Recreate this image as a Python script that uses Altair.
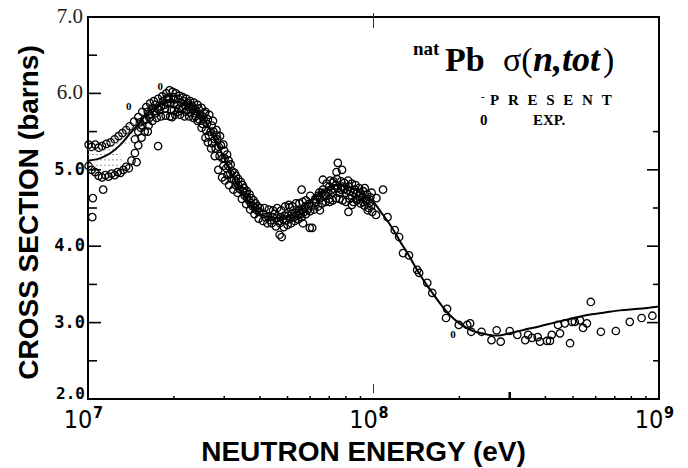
import altair as alt
import pandas as pd

# ---------------- data ----------------
# experimental points (neutron energy in MeV, cross section in barns), by energy region
exp_10_14 = [(10.05, 5.33), (10.3, 5.30), (10.6, 5.33), (10.9, 5.29), (11.2, 5.31), (11.6, 5.34),
             (12.0, 5.36), (12.4, 5.40), (12.8, 5.44), (13.2, 5.48),
             (10.05, 5.05), (10.3, 5.00), (10.6, 4.97), (10.9, 4.92), (11.2, 4.90), (11.5, 4.93),
             (11.8, 4.91), (12.1, 4.95), (12.4, 4.93), (12.7, 4.97), (13.0, 4.96), (13.3, 5.00),
             (13.6, 5.04), (13.9, 5.02),
             (10.4, 4.63), (10.35, 4.38), (11.3, 4.74), (14.8, 5.10), (17.6, 5.31), (16.2, 5.50), (19.7, 5.69)]
exp_14_20 = [(13.6, 5.52), (14.0, 5.57), (14.5, 5.63), (15.0, 5.69), (15.5, 5.76), (16.0, 5.82), (16.5, 5.87),
             (17.0, 5.90), (17.6, 5.93), (18.2, 5.96), (18.8, 6.00), (19.3, 6.04), (19.8, 6.02),
             (14.2, 5.12), (14.6, 5.22), (15.0, 5.32), (15.4, 5.42), (15.8, 5.50), (16.3, 5.58), (16.8, 5.64),
             (17.4, 5.68), (18.0, 5.70), (18.7, 5.71), (19.4, 5.70),
             (14.6, 5.40), (15.0, 5.50), (15.5, 5.58), (16.0, 5.66), (16.5, 5.72), (17.0, 5.76), (17.5, 5.80),
             (18.0, 5.83), (18.5, 5.85), (19.0, 5.87), (19.5, 5.88), (20.0, 5.86),
             (15.2, 5.62), (16.2, 5.76), (17.2, 5.85), (18.3, 5.90), (19.2, 5.93),
             (15.7, 5.65), (16.7, 5.80), (17.8, 5.78), (18.6, 5.80), (19.6, 5.78), (15.3, 5.55),
             (16.4, 5.68), (17.3, 5.74), (18.9, 5.94), (19.9, 5.95)]
exp_20_26 = [(20.3, 6.00), (20.9, 5.97), (21.5, 5.95), (22.1, 5.93), (22.8, 5.90), (23.5, 5.88), (24.2, 5.85),
             (25.0, 5.81), (25.8, 5.76),
             (20.2, 5.72), (21.0, 5.72), (21.8, 5.70), (22.6, 5.70), (23.4, 5.68), (24.2, 5.64), (25.0, 5.55),
             (25.8, 5.42), (26.3, 5.36),
             (20.5, 5.85), (21.2, 5.88), (21.9, 5.84), (22.6, 5.82), (23.3, 5.80), (24.0, 5.77), (24.7, 5.72),
             (25.4, 5.66), (26.1, 5.60), (20.8, 5.80), (22.2, 5.78), (23.7, 5.74), (25.2, 5.70),
             (20.0, 5.78), (20.6, 5.76), (21.4, 5.80), (22.0, 5.76), (22.9, 5.75), (23.8, 5.70), (24.5, 5.66),
             (25.2, 5.60), (25.9, 5.52), (20.1, 5.92), (20.7, 5.93), (21.6, 5.90), (22.4, 5.87), (23.1, 5.84),
             (24.4, 5.80), (25.6, 5.74)]
exp_26_40 = [(26.6, 5.72), (27.4, 5.64), (28.2, 5.52), (29.0, 5.44), (29.8, 5.33), (30.7, 5.20), (31.6, 5.07),
             (32.6, 4.96), (33.6, 4.88), (34.8, 4.80), (36.0, 4.72), (37.3, 4.63), (38.6, 4.56), (40.0, 4.50),
             (27.0, 5.28), (27.8, 5.18), (28.6, 5.00), (29.5, 4.90), (30.2, 4.86), (31.2, 4.80), (32.3, 4.74),
             (33.4, 4.70), (34.6, 4.62), (35.8, 4.55), (37.0, 4.48), (38.3, 4.42), (39.6, 4.36),
             (26.9, 5.50), (27.8, 5.40), (28.7, 5.30), (29.6, 5.15), (30.5, 5.02), (31.5, 4.95), (32.5, 4.87),
             (33.6, 4.80), (34.8, 4.72), (36.0, 4.64), (37.2, 4.56), (38.5, 4.50), (39.8, 4.45),
             (28.2, 5.45), (30.0, 5.25), (31.0, 5.05), (33.0, 4.92), (35.2, 4.76),
             (26.5, 5.45), (27.2, 5.35), (28.0, 5.28), (28.9, 5.18), (29.8, 5.05), (30.8, 4.93), (31.8, 4.88),
             (32.9, 4.80), (34.0, 4.75), (35.4, 4.66), (36.6, 4.60), (37.8, 4.52), (39.0, 4.47),
             (26.3, 5.66), (27.1, 5.58), (27.5, 5.50), (28.4, 5.40), (29.2, 5.32), (30.1, 5.15), (31.1, 5.12),
             (32.0, 4.98), (33.0, 4.85), (34.3, 4.84), (35.6, 4.70), (36.8, 4.68), (38.0, 4.60), (39.3, 4.52)]
exp_40_62 = [(41.5, 4.50), (43.0, 4.48), (44.5, 4.47), (46.0, 4.50), (47.5, 4.47), (49.0, 4.52), (50.5, 4.54),
             (52.0, 4.52), (53.5, 4.56), (55.0, 4.56), (56.5, 4.58), (58.0, 4.60), (60.0, 4.66),
             (41.0, 4.33), (42.5, 4.30), (44.0, 4.30), (45.5, 4.26), (47.0, 4.30), (48.5, 4.25), (50.0, 4.28),
             (51.5, 4.30), (53.0, 4.33), (54.5, 4.35), (56.0, 4.38), (58.0, 4.42), (60.0, 4.46),
             (41.2, 4.42), (42.8, 4.39), (44.3, 4.38), (45.8, 4.37), (47.3, 4.38), (48.8, 4.40), (50.3, 4.40),
             (51.8, 4.42), (53.3, 4.44), (54.8, 4.46), (56.3, 4.48), (57.8, 4.52), (59.4, 4.55),
             (41.8, 4.38), (43.6, 4.34), (45.0, 4.42), (46.6, 4.33), (48.2, 4.35), (49.6, 4.34), (51.1, 4.36),
             (52.7, 4.38), (54.2, 4.40), (55.6, 4.42), (57.2, 4.45), (58.8, 4.48), (60.6, 4.52), (62.0, 4.56),
             (47.7, 4.12), (61.0, 4.24), (56.0, 4.74), (46.9, 4.15), (59.8, 4.24), (50.9, 4.51), (56.6, 4.30)]
exp_62_125 = [(62.5, 4.62), (64.5, 4.70), (66.5, 4.74), (68.5, 4.82), (70.5, 4.86), (72.5, 4.85), (74.5, 4.88),
              (77.0, 4.85), (79.0, 4.83), (81.5, 4.86), (84.0, 4.82), (86.5, 4.80), (89.0, 4.76), (92.0, 4.72),
              (95.0, 4.68), (97.5, 4.64),
              (62.0, 4.48), (64.0, 4.52), (66.0, 4.56), (68.0, 4.58), (70.0, 4.62), (72.0, 4.60), (74.0, 4.63),
              (76.0, 4.62), (78.0, 4.60), (80.0, 4.58), (82.5, 4.62), (85.0, 4.58), (87.5, 4.60), (90.0, 4.56),
              (93.0, 4.53), (96.0, 4.50), (99.0, 4.45),
              (63.0, 4.58), (65.0, 4.63), (67.0, 4.66), (69.0, 4.70), (71.0, 4.73), (73.0, 4.75), (75.0, 4.76),
              (77.0, 4.74), (79.0, 4.75), (81.0, 4.73), (83.0, 4.72), (85.0, 4.70), (87.0, 4.69), (89.0, 4.66),
              (91.0, 4.63), (94.0, 4.60), (97.0, 4.57),
              (64.0, 4.66), (66.0, 4.70), (68.0, 4.66), (70.0, 4.78), (72.0, 4.70), (74.0, 4.80), (76.0, 4.70),
              (78.0, 4.78), (80.0, 4.70), (82.0, 4.78), (84.0, 4.66), (86.0, 4.74), (88.0, 4.62), (90.0, 4.70),
              (92.0, 4.58), (95.0, 4.62), (98.0, 4.52),
              (75.0, 5.09), (74.2, 4.97), (77.6, 5.00), (81.7, 4.45), (84.0, 4.54), (102.0, 4.41), (112.0, 4.38),
              (118.7, 4.21), (123.0, 4.12), (108.0, 4.74), (98.5, 4.70), (102.4, 4.63), (93.2, 4.76),
              (95.5, 4.47), (72.0, 4.83), (66.5, 4.87), (64.9, 4.47), (70.3, 4.58)]
exp_125_1000 = [(126.9, 3.91), (133.2, 3.88), (142.2, 3.69), (144.5, 3.65), (154.3, 3.52), (160.6, 3.39),
                (181.0, 3.18), (179.5, 3.06), (199.0, 2.97), (213.0, 2.97), (218.0, 2.99), (220.0, 2.88),
                (239.0, 2.88), (259.0, 2.77), (270.0, 2.90), (279.0, 2.75), (300.0, 2.89), (319.0, 2.84),
                (340.0, 2.77), (348.0, 2.84), (359.0, 2.80), (376.0, 2.81), (383.0, 2.75), (405.0, 2.76),
                (415.0, 2.76), (421.0, 2.84), (450.0, 2.86), (443.0, 2.97), (468.0, 2.99), (488.0, 2.73),
                (496.0, 3.01), (507.0, 3.01), (529.0, 3.03), (542.0, 2.93), (559.0, 2.99), (577.0, 3.27),
                (626.0, 2.88), (706.0, 2.89), (790.0, 3.01), (869.0, 3.06), (948.0, 3.09)]
# points printed as a small "0" glyph
exp_small = [(13.9, 5.82), (17.9, 6.08), (190.0, 2.84)]

# evaluated curve (MeV, barns)
curve_E = [10.0, 11.0, 12.0, 13.0, 14.0, 15.0, 16.0, 17.0, 18.0, 19.5, 21.0, 22.5, 24.0, 25.5, 27.0,
           28.5, 30.0, 32.0, 34.0, 36.0, 38.0, 40.0, 43.0, 46.0, 50.0, 54.0, 58.0, 62.0, 66.0, 70.0,
           75.0, 80.0, 85.0, 90.0, 95.0, 100.0, 106.0, 112.0, 118.0, 124.0, 132.0, 140.0, 150.0, 160.0,
           172.0, 185.0, 200.0, 220.0, 245.0, 270.0, 300.0, 340.0, 380.0, 430.0, 490.0, 560.0, 640.0,
           730.0, 850.0, 1000.0]
curve_sig = [5.12, 5.15, 5.22, 5.33, 5.47, 5.60, 5.72, 5.81, 5.86, 5.89, 5.88, 5.84, 5.77, 5.66, 5.50,
             5.33, 5.15, 4.93, 4.74, 4.60, 4.49, 4.42, 4.38, 4.37, 4.40, 4.46, 4.55, 4.64, 4.72, 4.77,
             4.80, 4.79, 4.76, 4.71, 4.65, 4.58, 4.45, 4.33, 4.20, 4.06, 3.90, 3.73, 3.55, 3.40,
             3.24, 3.10, 2.99, 2.90, 2.85, 2.83, 2.86, 2.91, 2.95, 3.00, 3.05, 3.10, 3.13,
             3.16, 3.18, 3.21]

# grey hatching in the low-energy band (E start MeV, E end MeV, barns)
hatch_E1 = [10.0, 10.0, 10.0, 10.0, 11.8, 12.3, 12.8, 13.3, 13.8]
hatch_E2 = [12.6, 13.0, 13.3, 13.0, 14.0, 14.3, 14.6, 14.8, 15.0]
hatch_sig = [5.26, 5.20, 5.13, 5.06, 5.35, 5.42, 5.48, 5.55, 5.60]

# axis tick values and labels
x_tick_values = [1e7, 1e8, 1e9]
x_tick_exp = ["7", "8", "9"]
y_major = [3.0, 4.0, 5.0, 6.0]
y_minor = [2.5, 3.5, 4.5, 5.5, 6.5]
y_right_major = [3.0, 4.0, 5.0]
y_right_minor = [2.5, 3.5, 4.5, 5.5]
x_minor_MeV = [20, 30, 40, 50, 60, 70, 80, 90, 200, 400, 500, 600, 700, 800, 900]
y_serif_labels = [7.0, 6.0]
y_mono_labels = [5.0, 4.0, 3.0]
y_bottom_label = [2.0]

# ---------------- tables ----------------
exp_all = exp_10_14 + exp_14_20 + exp_20_26 + exp_26_40 + exp_40_62 + exp_62_125 + exp_125_1000
df_exp = pd.DataFrame(exp_all, columns=["MeV", "sig"])
df_exp["E"] = df_exp["MeV"] * 1e6
df_small = pd.DataFrame(exp_small, columns=["MeV", "sig"])
df_small["E"] = df_small["MeV"] * 1e6
df_curve = pd.DataFrame({"E": [e * 1e6 for e in curve_E], "sig": curve_sig})
df_hatch = pd.DataFrame({"E": [e * 1e6 for e in hatch_E1], "E2": [e * 1e6 for e in hatch_E2], "sig": hatch_sig})
df_xlab = pd.DataFrame({"E": x_tick_values, "base": ["10"] * 3, "ex": x_tick_exp})

W, H = 571, 382
xscale = alt.Scale(type="log", domain=[1e7, 1e9], nice=False)
yscale = alt.Scale(domain=[2, 7], nice=False, zero=False)

X_AX = alt.Axis(values=x_tick_values, labels=False, ticks=False, tickSize=0, domain=False, grid=False,
                title="NEUTRON ENERGY (eV)", titleFont="Liberation Sans", titleFontSize=28,
                titleFontWeight="bold", titleColor="black", titleX=275, titleY=61,
                titleBaseline="alphabetic", titleAlign="center")
Y_AX = alt.Axis(labels=False, ticks=False, domain=False, grid=False,
                title="CROSS SECTION (barns)", titleFont="Liberation Sans", titleFontSize=28,
                titleFontWeight="bold", titleColor="black", titleAngle=270, titleX=-59, titleY=195,
                titleBaseline="middle", titleAlign="center")

def X(field="E:Q"):
    return alt.X(field, scale=xscale, axis=X_AX)

def Y(field="sig:Q"):
    return alt.Y(field, scale=yscale, axis=Y_AX)

points = alt.Chart(df_exp).mark_point(shape="circle", filled=False, size=55, strokeWidth=1.3,
                                      color="black", opacity=1).encode(x=X(), y=Y())

small_pts = alt.Chart(df_small).mark_text(text="0", font="Liberation Serif", fontSize=11,
                                          fontWeight="bold", color="black", baseline="middle").encode(
    x=X(), y=Y())

curve = alt.Chart(df_curve).mark_line(color="black", strokeWidth=2, interpolate="monotone").encode(
    x=X(), y=Y())

hatch = alt.Chart(df_hatch).mark_rule(color="#9a9a9a", strokeWidth=1, strokeDash=[2, 2]).encode(
    x=X(), x2="E2:Q", y=Y())

def yticks(vals, x0, x1, w=1.6):
    return alt.Chart(pd.DataFrame({"sig": vals})).mark_rule(color="black", strokeWidth=w).encode(
        y=Y(), x=alt.value(x0), x2=alt.value(x1))

lt_major = yticks(y_major, 0, 13)
lt_minor = yticks(y_minor, 0, 9)
rt_major = yticks(y_right_major, W - 12, W)
rt_minor = yticks(y_right_minor, W - 6, W)

xminor = alt.Chart(pd.DataFrame({"E": [m * 1e6 for m in x_minor_MeV]})).mark_rule(
    color="black", strokeWidth=1.5).encode(x=X(), y=alt.value(H), y2=alt.value(H - 3))
x3e8 = alt.Chart(pd.DataFrame({"E": [3e8]})).mark_rule(color="black", strokeWidth=2.5).encode(
    x=X(), y=alt.value(H), y2=alt.value(H - 7))
x1e8_bot = alt.Chart(pd.DataFrame({"E": [1e8]})).mark_rule(color="#333", strokeWidth=1).encode(
    x=X(), y=alt.value(H - 15), y2=alt.value(H - 6))
x1e8_top = alt.Chart(pd.DataFrame({"E": [1e8]})).mark_rule(color="#333", strokeWidth=1).encode(
    x=X(), y=alt.value(-4), y2=alt.value(11))

XFONT = "Liberation Sans Narrow, DejaVu Sans Condensed, DejaVu Sans Mono"
xlab_base = alt.Chart(df_xlab).mark_text(font=XFONT, fontSize=25, align="center", baseline="alphabetic",
                                         dx=-10, color="black").encode(
    x=X(), y=alt.value(H + 29), text="base:N")
xlab_exp = alt.Chart(df_xlab).mark_text(font=XFONT, fontSize=16, fontWeight="bold", align="center",
                                        baseline="alphabetic", dx=10, color="black").encode(
    x=X(), y=alt.value(H + 19), text="ex:N")

ylab_serif = alt.Chart(pd.DataFrame({"sig": y_serif_labels,
                                     "lab": [f"{v:.1f}" for v in y_serif_labels]})).mark_text(
    font="Liberation Serif", fontSize=21, align="right", baseline="middle", color="#222").encode(
    y=Y(), x=alt.value(-5), text="lab:N")
ylab_mono = alt.Chart(pd.DataFrame({"sig": y_mono_labels,
                                    "lab": [f"{v:.1f}" for v in y_mono_labels]})).mark_text(
    font="DejaVu Sans Mono", fontSize=17, fontWeight="bold", align="right", baseline="middle",
    color="black").encode(y=Y(), x=alt.value(-3), text="lab:N")
ylab_bottom = alt.Chart(pd.DataFrame({"sig": y_bottom_label,
                                      "lab": [f"{v:.1f}" for v in y_bottom_label]})).mark_text(
    font="DejaVu Sans Mono", fontSize=16, fontWeight="bold", align="right", baseline="middle",
    dy=-5, color="black").encode(y=Y(), x=alt.value(-3), text="lab:N")

def label(txt, x, y, size, weight="bold", style="normal", font="Liberation Serif"):
    return alt.Chart(pd.DataFrame({"t": [txt]})).mark_text(
        font=font, fontSize=size, fontWeight=weight, fontStyle=style, align="left",
        baseline="alphabetic", color="black").encode(x=alt.value(x), y=alt.value(y), text="t:N")

titles = [
    label("nat", 325, 38, 19),
    label("Pb", 357, 54, 34),
    label("\u03c3(", 415, 54, 34, weight="normal"),
    label("n,tot", 445, 54, 36, style="italic"),
    label(")", 515, 54, 34, weight="normal"),
    label("-", 393, 83, 11),
    label("P\u2002\u200aR\u2002\u200aE\u2002\u200aS\u2002\u200aE\u2002\u200aN\u2002\u200aT", 402, 88, 15),
    label("0", 392, 108, 15),
    label("EXP.", 445, 108, 15),
]

chart = alt.layer(points, hatch, curve, small_pts, lt_major, lt_minor, rt_major, rt_minor,
                  xminor, x3e8, x1e8_bot, x1e8_top, xlab_base, xlab_exp, ylab_serif, ylab_mono,
                  ylab_bottom, *titles).properties(
    width=W, height=H,
    autosize=alt.AutoSizeParams(type="none"),
    padding={"left": 88, "top": 17, "right": 29, "bottom": 69},
    background="white",
).configure_view(stroke="black", strokeWidth=2)

chart.save("out.html", embed_options={"renderer": "svg", "actions": False})
